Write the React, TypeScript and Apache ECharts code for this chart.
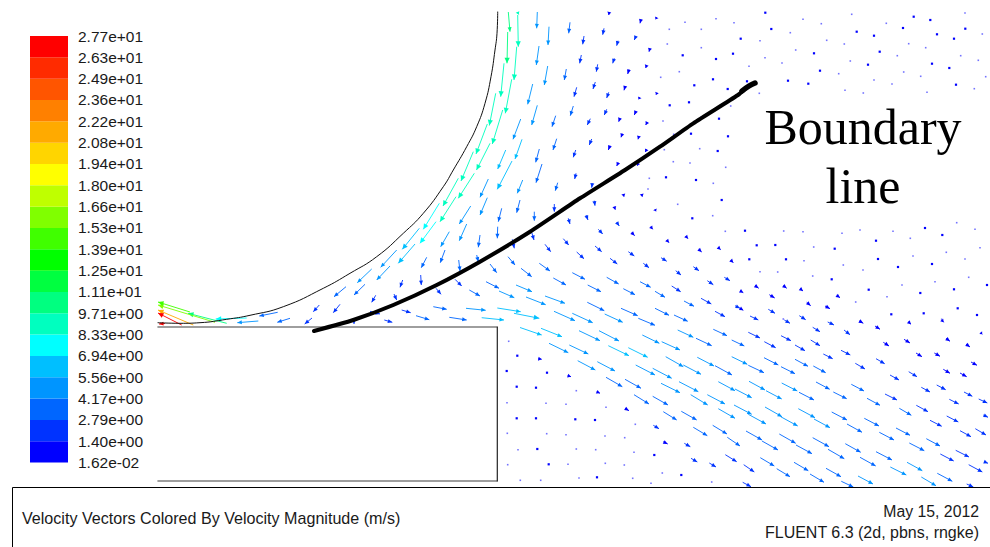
import React, { useEffect, useRef } from "react";
import * as echarts from "echarts";

const legendLabels = ["1.62e-02","1.40e+00","2.79e+00","4.17e+00","5.56e+00","6.94e+00","8.33e+00","9.71e+00","1.11e+01","1.25e+01","1.39e+01","1.53e+01","1.66e+01","1.80e+01","1.94e+01","2.08e+01","2.22e+01","2.36e+01","2.49e+01","2.63e+01","2.77e+01"];
const legendColors = ["#0000ff","#0033ff","#0066ff","#0095ff","#00bfff","#00ffff","#00ffbf","#00ff80","#00ff40","#00ff00","#40ff00","#80ff00","#bfff00","#ffff00","#ffd500","#ffaa00","#ff8000","#ff5500","#ff2b00","#ff0000"];
const legendStep = 1.385;

const wallCurve = [[158,322.7],[180,323.3],[200,322.7],[226.7,319.3],[250,315.3],[283.3,306.7],[323.3,288.3],[350,273.3],[376.7,256.7],[403.3,233.3],[423.3,213.3],[443.3,186.7],[453.3,170],[466.7,146.7],[476.7,126.7],[485,103.3],[491,76.7],[495,50],[497,33.3],[497.7,12]];
const stepTop = [[158,327],[497,327]];
const stepBottom = [[158,481],[497,481]];
const stepSide = [[497.3,327],[497.3,481]];
const boundaryLine = [[314,331],[353.3,320],[393.3,305],[436.7,285],[480,261.7],[530,231.7],[580,198.3],[625,170],[660,146.7],[693.3,123.3],[738,95],[745,89]];
const boundaryTip = [[742,91],[749,86],[755,83]];

// tail x, tail y, head x, head y, magnitude
const nearWallVectors = [
[226.7,323.3,188,313.3,10.5],[215,322.3,158,305,15.5],[193.3,325,158,310,21],[181.7,325,158,313,26.5],[165,323.5,159,324,26.5],
[190,312,158,302,14],[246.7,318,215.7,319,7],[277.7,312.3,259.3,316,4],[258.3,321,237.3,322.7,4.5],[290,318.3,277.3,322.3,3],
[319.3,305,313.3,311.7,2.5],[312,318,304.7,324,2],[340,304.3,333.3,312.7,2.5],[346,286.7,334,296.7,3.5],[365,284.3,354,295,3.5],
[371.7,269,357.3,282.7,4.5],[390,266,376.7,280,4.5],[396.7,250,380.7,267.3,5.5],[415,244,398.3,263.3,6],[419.3,228.3,402.3,249.3,6.5],
[436,221.7,420,243.3,7],[439.3,203.3,423.3,229.3,7.5],[456,196.7,440,221.7,8.5],[458.3,178.3,443,206,8.5],[474.3,173.3,458.3,198.3,8.5],
[473.3,151.7,461,181,9],[490,143.3,476.5,170,8.5],[487.3,124,476,154,9],[502.7,110,492.3,144,8.5],[495.7,93.3,489.3,125.5,9],
[511.7,79.3,505.3,113.3,9],[504,63.3,500.7,96.7,9.5],[516.7,46.7,514,80,9],[507.7,32,507,63.3,10.5],[517.7,15,518.3,46.7,9],
[508.3,12,510,31.7,10],[517.5,12,518.7,14.5,8.5],
];
const upstreamVectors = [
[537.3,12,536.7,28.3,4.5],[549,26.7,548,45,4.5],[570,22.3,568.7,33.3,3],[584,36,582.7,44.3,2],[604,28.3,602.7,34.7,2],[609.3,12,608.7,15,1],[641,19.3,640,23.3,1],[656.7,17.3,655.7,19.3,1],
[539,46,536.3,65,4.5],[581.3,55,579.7,63.3,2],[618,40.7,616.7,45.7,1.5],[636,36,634.3,40,1.5],[650,48.3,649,51.7,1],[614.3,58.3,612.7,63.3,1.5],[597.7,64.3,596.3,71.7,2],[566.3,69,564.3,80,3],[547.7,66,544.3,85,4.5],
[532.7,84,527.7,104.3,5],[576.7,87.3,574,96.7,2.5],[595.3,82,593,89,2],[629,69.3,627.7,74,1.2],[646.7,65,645.7,68,1],[608.7,92.3,606.7,98,1.5],[625.3,86,624,90.3,1.2],[639.7,97.3,638.7,99.3,.8],[657,92.7,656,94.7,1],
[537.3,105.3,531.7,125,5],[573.3,106,570.3,115.7,3],[555.7,115.7,552,126.7,3],[606.7,109.3,604.3,115,1.5],[590.3,118.7,587.3,125,2],[620,118,618.7,121.7,1],[636,111,634.3,115,1],[647.3,122,645.7,125,1],
[520.7,119,513,139.3,5.5],[522,139.3,515,159,6],[556.7,138.7,553,150,3],[539.3,149,535.7,162.3,4],[591.7,139,589.3,145,1.5],[610,145.7,608.3,150,1.2],[622.3,133.7,621,137.3,1],[639,136,638,139.3,1],[646.7,149.3,645.3,152,1],
[575.7,150,573.3,157.3,2.5],[505.7,150,497.7,169,6.5],[618.3,162.7,616.7,166,1.2],[638.3,163.3,637.3,165.7,1],
[512,161,497.3,189.3,6],[542,164,536,182.7,4],[576,173.3,574.7,179,2.5],[522.7,180,517.3,193.3,4.5],[557.7,182.7,555.3,190.7,3],[592.3,183.3,591.7,187.7,1.5],[488.3,179,480,197.3,5.5],[487.3,197.7,480,215,5],[470.7,206,459.3,224,5.5],[466.7,224,459.3,240.7,4.5],[449.3,231.7,440.7,246.7,4.5],[445,250,440.3,262.7,3.5],[426.7,257.3,421.3,267.7,3.5],[420.7,275,421.3,285,2.5],[402.7,280,400,287.3,2.5],[375.7,295.3,371.7,302.3,2.5],
[520,200,516.7,212.7,4],[501.7,208.3,498.3,221.7,4],[534.3,211.7,534.3,220.7,3],[554.3,204,554.3,211.7,2.5],[497.7,226.7,497.3,238.3,3.5],[480,235,478.3,247.3,4],[476.7,255,478.3,261.7,3],[458.7,260,460,271,3],
];
const crossingVectors = [
[394,294,396.7,300,2],[455,279.3,461.7,286,2.5],[436,288.3,441,294.3,2.5],[469.3,290,480,296,3],[433.3,306.7,446.7,309.3,3.5],[466,308.3,485.7,310.3,4.5],[401.7,310,410.7,312.7,2.5],[416,315.7,429.3,319.7,3],[449.3,317.3,466.7,320,4],[370,311.3,380,314,2],[384.3,320,392.3,322.3,2],[354,319,354,324,1.5],
[568.3,218.3,570,224,2],[586,215,588,220,1.5],[594.3,200.7,595,205.7,1.5],[623.3,194,624,196.7,1],[641.7,194,642.3,196.7,1],[614.3,206.7,615.3,209.7,1],[655,209.3,656,211.3,1],[616.7,222.3,619.3,226,1.5],[598.3,229.3,602.7,234,1.8],[631.7,232.7,634.7,235.7,1],[650.7,226.7,652.7,229.3,1],[666.7,240,669,242.7,1],[685.7,236,688,238.7,1],[698.7,249.3,701.7,252,1],[718,247.3,720.7,249.7,1],[730.7,260,733.3,262.7,1],
[531.7,232.3,534,240,2.5],[512.3,239.3,514.3,248.3,2.5],[563.3,238.7,568.7,245,2],[545,244.3,550.7,251.7,2.5],[595,246,601.7,251.7,2],[628.3,251.7,634.3,256,1.8],[576.7,252,584,258.7,2.2],[610,258.3,617.3,264,2.2],[661,257.7,666.7,261.3,1.8],[643.3,263.3,649,267.7,2],[508,256.7,515,265,3],[539.3,263.3,550,271,3],[490,264,496.7,272.7,3],[521,268.3,531.7,276.7,3],[693.3,266.7,699,270.7,2],[675.7,270.7,681,275,2],[724.3,277.3,730,280.7,2],[707.3,280.7,713.3,284.7,2],
];
const jetVectorsNear = [
[572.3,272.7,585,279.3,3.2],[553.3,278,566,285,3.5],[606.7,277.3,618.7,284,3],[640,281.7,650.7,287.3,3],[671.7,286,680.7,291.7,2.5],[486,281.7,499,288.3,4],[516,285,532,291.7,4.5],[587.7,285,601,291.7,3.5],[623.3,288.7,635,294.7,3],[655,291.3,665,297.3,3],[499,291,514.3,297.7,4.5],[526,297,545.7,304.7,5],[545,296,565,303.3,4.5],[684,301,694,306.3,3],[701,298.3,711.3,304,2.5],[587.3,302.3,604.3,310.7,4],[621,308.3,637.7,315.7,4],[655,308.3,669,315.3,3.5],[674,315,687.7,321.3,3.5],[715,311.3,725,316.7,2.5],[735,305.7,740,308.3,2.5],
[497.3,308,520.7,311.7,6],[514,313.3,539.3,318.3,6],[481.7,317.7,504,320,6],[554,311.3,575,320.7,5],[572.3,313.3,592.7,322.7,5.5],[604.7,314,622.7,322.3,4.5],[638.3,318.3,655,325.3,4],[520,327.5,541.7,335,6],[541,328.3,562,336.7,6],[579,330.7,600,340.7,5.5],[599,330.7,619,341,5.5],[642.3,335,659.3,343.3,4.5],[661.7,341.7,680,350,4.2],[677.7,330,693.3,337.3,4.5],[696,338.3,711.7,345.7,3.8],[713.3,329.3,727,335.7,3],[731.7,340,744.3,346,3],
[549,343.3,568.3,352.7,4.8],[569.3,345,588.3,354,4.8],[608.3,345.7,629,355.7,6],[628.3,347.7,647.7,357.3,6],[665.7,356.7,683.3,366.7,4.5],[683.3,365,701,374.3,4.5],[697.3,357.3,714,366,4.5],[715,365.7,732,375,4],[731.7,356.7,747.3,364.3,4.5],[577.7,360.7,595.3,370,4.2],[597.3,361.7,615,371,4.3],[635.7,365,655,375,5],[652.7,368.3,671.7,378.3,5],[606,377.3,622.3,386.7,4],[625,379.3,641,388.3,4],[661,383.3,680,392.7,5],[679,381.7,698.3,391.7,5],[718.3,381.7,735,390.7,4.5],[735,389,751.7,397.7,4.5],
[634,394.7,649,404,4],[652.7,396.3,668,405,4],[690.7,394.7,707.7,405,5],[707.3,394.7,725,404,4.8],[734,405,751.7,414.3,4.5],[718.3,408.7,735,418.3,4.5],[663.3,411.7,676.7,420,3.5],[681.3,411.3,696.7,420,3.8],[693.3,427.3,707.3,435.7,3],[712.7,425.3,727,434,3.5],[727.3,437.3,740,446,4],[653.3,425.3,659,428.7,1.5],[625,408.3,629,410.7,1],[596.7,391.7,600,393.3,1],[567.7,375.7,571,376.7,1],[538.3,358.7,541.7,359.3,1],[663.3,441.7,667.7,444,1],[684.3,443.3,690.3,446.7,1.5],[691,458.3,697.3,462,1.5],[709.3,463,716,467,1.5],[725.3,454.7,736.7,461.7,2.5],
];
const jetVectorsFar = [
[784.3,320,790,323.3,1.5],[827.7,322,834,325,1.5],[859.3,321,863.3,323.3,1],[875,326,880,329.3,1.3],[908.3,321.7,911,324.3,1],[941.7,320,943.7,322.3,1],[812.7,327.3,820,331.7,1.5],[844,330,850,334.7,1.5],[980.7,332.7,982.3,334.3,.7],[748.3,332.3,760,338,2.5],[781,335.7,791,340.7,2],[810.7,340,820,345.7,2],[764.3,341.7,775.7,347.7,2.5],[795,345,805,350.7,2],[883.3,342.3,889,346,1.3],[904,339.3,910,343,1.3],[946,338.3,950,341.3,1],[966,344,970,347,1],[823.3,354,832.7,358.7,1.8],[841,350.3,850.3,355,1.8],[916,353,922,356.7,1.3],[934.3,353,940,356.3,1.3],[971,362,977,365.3,1.2],[876,358.7,884.7,363.7,1.8],[855.3,363.3,865,369,2],[764,357.7,778.3,365,3],[795,359.3,808,366.3,2.8],[781,366.7,795,373.7,3],[813.3,366,825.7,372.7,3],[748.3,365.3,764,372.7,4],[943.3,369.3,950,373.3,1.3],[960,373,966.7,376.7,1.2],[890,375,899,380,1.8],[908.7,371.7,917,376.7,1.8],
[749,381.3,765,390,4.5],[781.7,383,797.3,391,4.2],[816,382,829.7,389.3,3.5],[851.3,384.3,864,391,3],[799,392.3,814,400,4],[766,390.7,781.7,399,4.5],[833.3,392,846.7,398.7,3.5],[867,398.3,880,405.3,3],[885,394,897,400,2.5],[921.3,387.3,930,392,1.8],[936.7,385,945.7,389.7,1.8],[964,392,972.3,396.3,1.8],[978.7,399,987.3,403,1.8],[949.3,399.3,958.7,404,1.8],[916.3,405.3,928,411.7,2.5],[899.3,408.3,911.3,415.3,2.8],[946.7,416,958.3,422,2.3],[930,420.3,941.7,426.3,2.5],[983.3,415,988,417.3,2],[748.3,414.3,766,424,4.5],[765,407,782,416.7,4.5],[798.3,408.7,815,417.7,4.2],[780.7,416.7,797.7,426,4.5],[814,419,830,427.7,4.2],[831.7,412,847,420,3.8],[864.3,418.3,879,426,3.5],[847,424,862,432.3,3.5],[879.3,432.3,894,440,3.5],[896,428,910,435.3,3],[926.3,438.7,940,446,3],[960,430.7,971,436.7,2.3],[975.3,428.7,986,435,2.2],[746,431,762,440,4],[779.3,434,795.7,443.3,4],[812.7,437.7,829,446.7,4],[762,441,778,450,3.8],[796,445,812,453.7,3.8],[845.3,443.7,860.7,452.3,4],[828,449.3,844.3,458.7,3.8],[876,451.7,892,460,4],[860,457.3,875.7,466,4],[909.3,443,924.3,450.7,3],[955.7,450.3,969,457,2.5],[940.3,454,953.7,461,2.5],[907,462.3,922.3,470.7,4.3],[890.3,467,906.3,475,4.2],[968.7,464.7,982.3,472,2.5],[937.3,473.3,952.3,481.3,3],[921.3,477,936,485.7,4.2],[858,476,873,484,4.3],[826,468.3,841,476.7,4],[794,462.3,808.3,470.7,2.8],[760.3,457.7,774.3,466,2.8],[743.7,464.7,754.3,472,2],[776.7,468.7,790,476.7,2.8],[810,474,824,482.3,2.8],[841.3,481.3,853.3,487,3.5],[742.7,482.3,751,486.7,2],[966.7,484,973.3,487,2],[984,461.7,988,463.3,2],
[755,285.7,758.7,288.3,1],[783.3,285.7,786.7,288.3,1],[800,288.7,803,291,1],[740,290.7,743.3,292.7,1],[769.3,294.7,774.7,298,1.2],[836.7,295.3,840,297.7,1],[806.7,302.3,810.7,305.7,1.1],[825,306,830,308.7,1.2],[740,308.3,743.3,310.3,1],[768.3,309.3,775,313.3,1.5],[750,316,758.3,320,1.5],[799.3,315.7,805.7,319.7,1.5],
];
const dotsStrong = [
[765.3,12.7],[913.7,16.7],[930.3,20],[903,28],[771.3,29],[856.7,31.7],[874,35.7],[937,34.3],[965.3,28.7],[954,38.7],[740.7,38.7],[879.7,51.7],[814,53.3],[733,53.7],[682.7,55.3],[716,59],[868,64.7],[932,63.7],[949.3,68],[820,70.7],[788,80.7],[808.3,83.7],[713,79.3],[747,81.3],[694.3,85.3],[727.7,89],[956,84.7],[689,102.3],[669.7,105.3],[719,118.7],[691,133.7],[728,136.3],[717.7,151],
[517.3,355.7],[506.7,371],[547,372.7],[516.7,386.7],[536,387.7],[516.7,418.3],[536,418.3],[595,420],[575.3,419.3],[537.3,449],[548.7,464.3],[597,477.3],[681.3,475],[654.3,455],
[876,240.7],[878,259],[898,267],[932,264],[925,228],[942.3,235],[868.7,289.7],[920.3,293],[954,289.3],[987,285],[831.7,279.3],[786,259.3],[775.3,245],[756.7,245.3],[745,230.7],[749.3,259.3],[834.7,248.7],[957.7,308.3],[977,315],[923.7,313.3],[891.3,314.3],
[696,180],[721.7,200],[666,177.3],[692.3,218.3],
];
const dotsFaint = [
[716,18.7],[734,22.7],[685,22.3],[669.3,29.3],[701.3,29.3],[803,19.3],[821.3,23.7],[851.7,14.3],[886.3,23.3],[965,13],[790.3,32.7],[982.3,34],[760,40.7],[826.7,40.3],[844.3,44],[908.7,43.7],[925.7,47.7],[667.3,44],[701.3,47.7],[795.7,50],[897.3,55.7],[765,57.7],[782,63],[850.3,61],[960.7,55.7],[978.3,60.3],[749,66.3],[838.7,73.7],[903.7,72],[920.7,76.3],[985.7,76.7],[679.3,71.7],[660.7,77.3],[874,80],[892,84],[845,90.3],[863.3,93],[927,92.3],[974.3,88.7],[759.3,93.3],[730.7,106],[663,121],[701,117.3],[673.7,134.3],[664.3,149.7],[699.7,148.7],[673.3,161.7],[690,163],[725.7,167.3],
[508.7,341.3],[576.3,390.7],[507,402.7],[546,403.3],[566,404.3],[606,407.3],[635.3,424.3],[507.3,433.3],[546.7,433.7],[566,434.7],[605,436],[624.7,437.7],[518,449.7],[576.3,449],[595.7,449.7],[634,452.3],[507.7,464.7],[568,464.3],[605.3,463.3],[624.3,465],[662.3,473],[520.3,480.3],[540.7,480.3],[579,478],[632.7,478.3],[651,483.3],[711.7,482],
[783.7,231],[803,231.7],[842,233.3],[860,230],[893,231.3],[956.7,222.7],[975,229.3],[910.3,238.3],[980,247.7],[946.3,252.3],[813.7,247],[913,256],[965,259],[804,260.7],[843.3,265],[863,270],[760,271.7],[777.7,272],[812.7,276],[968.7,277.3],[935,281.7],[902,285],[887,296.7],[855.7,302],[941.7,319.3],[783.3,319],
[677.7,204.3],[648,189],[649.3,178.3],[713.3,183.3],[712.7,215.7],[725.3,231.3],
];

const vectorRows = [...nearWallVectors, ...upstreamVectors, ...crossingVectors, ...jetVectorsNear, ...jetVectorsFar];

function levelColor(m: number) {
  return legendColors[Math.min(legendColors.length - 1, Math.floor(m / legendStep))];
}

export default function App() {
  const ref = useRef<HTMLDivElement>(null);
  useEffect(() => {
    document.body.style.margin = "0";
    const chart = echarts.init(ref.current!, null, { renderer: "svg" });
    const lineSeries = (data: number[][], color: string, width: number, smooth: boolean | number = false) => ({
      type: "line", xAxisIndex: 0, yAxisIndex: 0, data, symbol: "none", smooth, silent: true,
      lineStyle: { color, width, cap: "round", join: "round" }, z: 4,
    });
    chart.setOption({
      animation: false,
      grid: [
        { left: 0, top: 0, width: 990, height: 547 },
        { left: 30, top: 36, width: 38, height: 426.6 },
      ],
      xAxis: [
        { type: "value", gridIndex: 0, min: 0, max: 990, show: false },
        { type: "value", gridIndex: 1, min: 0, max: 1, show: false },
      ],
      yAxis: [
        { type: "value", gridIndex: 0, min: 0, max: 547, inverse: true, show: false },
        {
          type: "value", gridIndex: 1, min: 0, max: 20, interval: 1, position: "left", offset: -38,
          axisLine: { show: false }, axisTick: { show: false }, splitLine: { show: false },
          axisLabel: {
            show: true, inside: false, margin: 0, align: "left", padding: [0, 0, 0, 10],
            fontFamily: "Liberation Sans", fontSize: 15.5, color: "#1a1a1a",
            formatter: (v: number) => legendLabels[v],
          },
        },
      ],
      series: [
        {
          type: "custom", xAxisIndex: 1, yAxisIndex: 1, silent: true, clip: false,
          data: legendColors.map((_, i) => [i]),
          renderItem: (_: any, api: any) => {
            const i = api.value(0);
            const a = api.coord([0, i]);
            const b = api.coord([1, i + 1]);
            return { type: "rect", shape: { x: a[0], y: b[1], width: b[0] - a[0], height: a[1] - b[1] }, style: { fill: legendColors[i] } };
          },
        },
        lineSeries(stepTop, "#7f7f7f", 1.6),
        lineSeries(stepBottom, "#7f7f7f", 1.6),
        lineSeries(stepSide, "#222222", 1.2),
        lineSeries(wallCurve, "#111111", 1, 0.5),
        {
          type: "custom", xAxisIndex: 0, yAxisIndex: 0, silent: true, z: 3,
          data: vectorRows,
          renderItem: (_: any, api: any) => {
            const t = api.coord([api.value(0), api.value(1)]);
            const h = api.coord([api.value(2), api.value(3)]);
            const color = levelColor(api.value(4));
            const dx = h[0] - t[0], dy = h[1] - t[1];
            const len = Math.hypot(dx, dy) || 1;
            const ux = dx / len, uy = dy / len;
            const hl = Math.min(len, len > 25 ? 5.5 : 4.5), hw = len > 25 ? 2.6 : 2;
            const bx = h[0] - ux * hl, by = h[1] - uy * hl;
            return {
              type: "group",
              children: [
                { type: "line", shape: { x1: t[0], y1: t[1], x2: h[0], y2: h[1] }, style: { stroke: color, lineWidth: 1, opacity: 0.9 } },
                { type: "polygon", shape: { points: [[h[0], h[1]], [bx - uy * hw, by + ux * hw], [bx + uy * hw, by - ux * hw]] }, style: { fill: color } },
              ],
            };
          },
        },
        ...[{ data: dotsStrong, size: 2.2, opacity: 1 }, { data: dotsFaint, size: 1.6, opacity: 0.55 }].map((d) => ({
          type: "custom", xAxisIndex: 0, yAxisIndex: 0, silent: true, z: 3,
          data: d.data,
          renderItem: (_: any, api: any) => {
            const p = api.coord([api.value(0), api.value(1)]);
            return { type: "rect", shape: { x: p[0] - d.size / 2, y: p[1] - d.size / 2, width: d.size, height: d.size }, style: { fill: "#0000ff", opacity: d.opacity } };
          },
        })),
        lineSeries(boundaryLine, "#000000", 4, 0.2),
        lineSeries(boundaryTip, "#000000", 5.5, true),
      ],
      graphic: [
        { type: "rect", z: 10, shape: { x: 12.5, y: 487.5, width: 990, height: 80 }, style: { fill: "#ffffff", stroke: "#000000", lineWidth: 1 } },
        { type: "text", z: 11, x: 22, y: 518, style: { text: "Velocity Vectors Colored By Velocity Magnitude (m/s)", fontFamily: "Liberation Sans", fontSize: 16.1, fill: "#1a1a1a", textVerticalAlign: "middle" } },
        { type: "text", z: 11, x: 979, y: 511, style: { text: "May 15, 2012", fontFamily: "Liberation Sans", fontSize: 15.8, fill: "#1a1a1a", textAlign: "right", textVerticalAlign: "middle" } },
        { type: "text", z: 11, x: 979, y: 532.5, style: { text: "FLUENT 6.3 (2d, pbns, rngke)", fontFamily: "Liberation Sans", fontSize: 16, fill: "#1a1a1a", textAlign: "right", textVerticalAlign: "middle" } },
        { type: "text", z: 11, x: 863, y: 127, style: { text: "Boundary", fontFamily: "Liberation Serif", fontSize: 50, fill: "#000000", textAlign: "center", textVerticalAlign: "middle" } },
        { type: "text", z: 11, x: 863, y: 186, style: { text: "line", fontFamily: "Liberation Serif", fontSize: 50, fill: "#000000", textAlign: "center", textVerticalAlign: "middle" } },
      ],
    });
    return () => chart.dispose();
  }, []);
  return <div ref={ref} style={{ position: "absolute", left: 0, top: 0, width: 990, height: 547, background: "#ffffff" }} />;
}
